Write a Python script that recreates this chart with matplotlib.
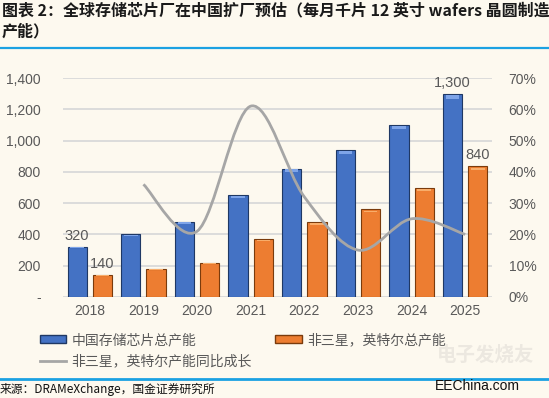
import numpy as np
import matplotlib
matplotlib.use('Agg')
from matplotlib import pyplot as plt
from matplotlib.path import Path
from matplotlib.patches import PathPatch, Patch
from matplotlib.lines import Line2D
from matplotlib.ticker import FuncFormatter

plt.rcParams['font.family'] = ['Liberation Sans', 'Noto Sans CJK SC', 'DejaVu Sans']

# data
years = ['2018', '2019', '2020', '2021', '2022', '2023', '2024', '2025']
china_total = [320, 400, 480, 650, 820, 940, 1100, 1300]
other_total = [140, 180, 220, 370, 480, 560, 700, 840]
growth_years = ['2019', '2020', '2021', '2022', '2023', '2024', '2025']
growth_pct = [36, 21, 61, 32, 15, 25, 20]

left_ticks = [0, 200, 400, 600, 800, 1000, 1200, 1400]
right_ticks = [0, 10, 20, 30, 40, 50, 60, 70]

title = '图表 2：全球存储芯片厂在中国扩厂预估（每月千片 12 英寸 wafers 晶圆制造\n产能）'
source = '来源：DRAMeXchange，国金证券研究所'
names = ['中国存储芯片总产能', '非三星，英特尔总产能', '非三星，英特尔产能同比成长']

bg = '#fdf9ef'
blue = '#4472c4'
orange = '#ed7d31'
grey = '#a6a6a6'
txt = '#595959'
cjk = ['Noto Sans CJK SC', 'DejaVu Sans']

fig = plt.figure(figsize=(5.49, 3.98), dpi=100, facecolor=bg)
ax = fig.add_axes([63/549, 1-297/398, (492-63)/549, (297-78)/398])
ax.set_facecolor(bg)

x = np.arange(len(years))
w = 0.36
ax.bar(x - 0.235, china_total, w, color=blue, edgecolor='#1f3864', linewidth=0.8, zorder=3)
ax.bar(x + 0.235, other_total, w, color=orange, edgecolor='#7a3b0c', linewidth=0.8, zorder=3)
# light top bevel
ax.bar(x - 0.235, [v*0.02 for v in china_total], w*0.7, bottom=[v*0.975 for v in china_total],
       color='#7ea4e8', linewidth=0, zorder=4)
ax.bar(x + 0.235, [v*0.02 for v in other_total], w*0.7, bottom=[v*0.965 for v in other_total],
       color='#f8ad6a', linewidth=0, zorder=4)

ax.set_xlim(-0.5, len(years) - 0.5)
ax.set_ylim(0, 1400)
ax.set_yticks(left_ticks)
ax.yaxis.set_major_formatter(FuncFormatter(lambda v, p: '-' if v == 0 else f'{int(v):,}'))
ax.set_xticks(x)
ax.set_xticklabels(years)
ax.tick_params(axis='y', length=0, pad=16, labelsize=10, labelcolor=txt)
ax.tick_params(axis='x', length=0, pad=5, labelsize=10, labelcolor=txt)
ax.grid(axis='y', color='#d9d9d9', linewidth=1.3, zorder=0)
for s in ax.spines.values():
    s.set_visible(False)

# data labels on first and last year
for i in [0, len(years) - 1]:
    ax.text(x[i] - 0.235, china_total[i] + 25, f'{china_total[i]:,}', ha='center', va='bottom',
            fontsize=10.5, color=txt, zorder=5)
    ax.text(x[i] + 0.235, other_total[i] + 25, f'{other_total[i]:,}', ha='center', va='bottom',
            fontsize=10.5, color=txt, zorder=5)

# growth line on right axis, smoothed like excel
ax2 = ax.twinx()
ax2.set_ylim(0, 70)
ax2.set_yticks(right_ticks)
ax2.yaxis.set_major_formatter(FuncFormatter(lambda v, p: f'{int(v)}%'))
ax2.tick_params(axis='y', length=0, pad=12, labelsize=10, labelcolor=txt)
for s in ax2.spines.values():
    s.set_visible(False)

gx = np.array([years.index(y) for y in growth_years], dtype=float)
gy = np.array(growth_pct, dtype=float)
px = np.concatenate([[gx[0]], gx, [gx[-1]]])
py = np.concatenate([[gy[0]], gy, [gy[-1]]])
verts = [(gx[0], gy[0])]
codes = [Path.MOVETO]
for i in range(1, len(px) - 2):
    c1 = (px[i] + (px[i+1] - px[i-1]) / 6, py[i] + (py[i+1] - py[i-1]) / 6)
    c2 = (px[i+1] - (px[i+2] - px[i]) / 6, py[i+1] - (py[i+2] - py[i]) / 6)
    verts += [c1, c2, (px[i+1], py[i+1])]
    codes += [Path.CURVE4] * 3
ax2.add_patch(PathPatch(Path(verts, codes), facecolor='none', edgecolor=grey, linewidth=2, zorder=6,
                        capstyle='butt'))

# legend (ncol fills by column, so order blue, grey | orange)
hb = Patch(facecolor=blue, edgecolor='#1f3864')
ho = Patch(facecolor=orange, edgecolor='#7a3b0c')
hg = Line2D([], [], color=grey, linewidth=2)
leg = fig.legend([hb, hg, ho], [names[0], names[2], names[1]], ncol=2, loc='upper left',
                 bbox_to_anchor=(0.072, 1-333/398), frameon=False, prop={'family': cjk, 'size': 10},
                 handlelength=1.9, handleheight=0.45, handletextpad=0.4, columnspacing=1.7,
                 labelspacing=0.5, borderaxespad=0, borderpad=0)
for t in leg.get_texts():
    t.set_color(txt)

# title, rules, source
fig.text(0.003, 0.995, title, ha='left', va='top', fontsize=11.5, fontweight='bold',
         family=cjk, color='#1a1a1a', linespacing=1.4)
fig.add_artist(Line2D([0, 1], [1-48/398, 1-48/398], color='#1ba1e2', linewidth=1.6))
fig.add_artist(Line2D([0, 1], [1-379/398, 1-379/398], color='#1ba1e2', linewidth=2))
fig.text(0.0, 1-389/398, source, ha='left', va='center', fontsize=8.5, family=cjk, color='#111111')

# watermark
fig.text(0.885, 1-355/398, '电子发烧友', ha='center', va='center', fontsize=14, family=cjk,
         color='#ece8e0', fontweight='bold')
fig.text(0.87, 1-386/398, 'EEChina.com', ha='center', va='center', fontsize=10, color='#111111')

fig.savefig('out.png', dpi=100, facecolor=bg)
